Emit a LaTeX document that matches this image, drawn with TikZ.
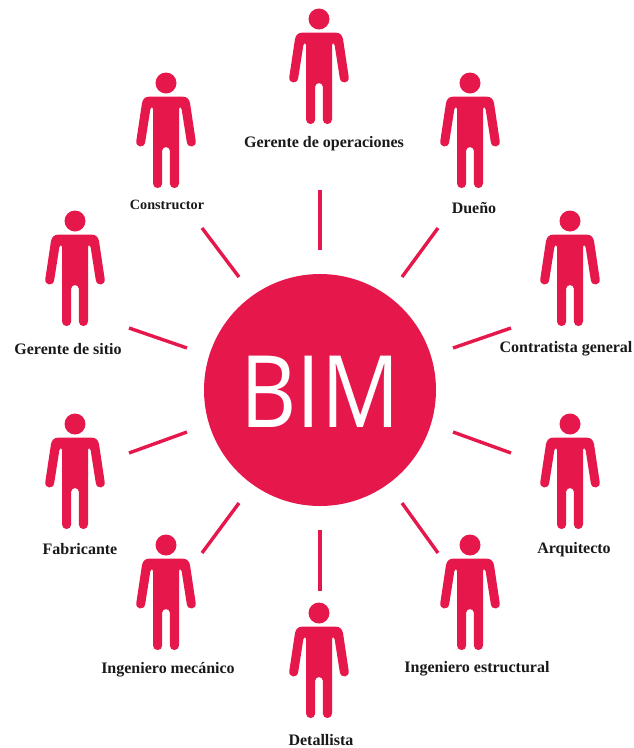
\documentclass[tikz,border=0pt]{standalone}
\usepackage{fontspec}
\setmainfont{Liberation Serif}
\newfontfamily\bimfont{Open Sans}
\definecolor{bimred}{HTML}{E6174B}
\tikzset{
    spoke/.style={draw=bimred, line width=3.4pt},
    hub/.style={circle, fill=bimred, minimum size=232pt, inner sep=0pt},
    role/.style={font=\bfseries\fontsize{16}{18}\selectfont, text=black!90, inner sep=0pt},
    person/.pic={
        \fill [bimred] (0,0) circle (10.5);
        \fill [bimred] (-17,13.7) -- (17,13.7)
            .. controls (21,13.7) and (23,16) .. (24,20) -- (29.7,58)
            .. controls (30.6,64.6) and (21.7,65.6) .. (20.8,59) -- (15.6,26)
            .. controls (15.2,23.6) and (13,23.6) .. (13,26.5) -- (13,100.5)
            .. controls (13,106.5) and (3.8,106.5) .. (3.8,100.5) -- (3.8,67.5)
            .. controls (3.8,63) and (-3.8,63) .. (-3.8,67.5) -- (-3.8,100.5)
            .. controls (-3.8,106.5) and (-13,106.5) .. (-13,100.5) -- (-13,26.5)
            .. controls (-13,23.6) and (-15.2,23.6) .. (-15.6,26) -- (-20.8,59)
            .. controls (-21.7,65.6) and (-30.6,64.6) .. (-29.7,58) -- (-24,20)
            .. controls (-23,16) and (-21,13.7) .. (-17,13.7) -- cycle;
    }
}
\begin{document}
\begin{tikzpicture}[x=1pt, y=-1pt]
        \useasboundingbox (0,0) rectangle (633,748);
        \node [hub] (BIM) at (320,390) {};
        \node [text=white, font=\bimfont\fontsize{100}{100}\selectfont, xscale=0.87, transform shape, inner sep=0pt] (BIMT) at (320,392) {BIM};
        \pic (PO) at (319,19) {person};
        \pic (PD) at (470,83) {person};
        \pic (PC) at (570,221) {person};
        \pic (PA) at (570,424) {person};
        \pic (PE) at (470,545) {person};
        \pic (PL) at (319,613) {person};
        \pic (PM) at (166,545) {person};
        \pic (PF) at (75,424) {person};
        \pic (PS) at (75,221) {person};
        \pic (PK) at (166,83) {person};
        \node [role] (LO) at (324,143.5) {Gerente de operaciones};
        \node [role] (LD) at (474,208) {Dueño};
        \node [role] (LC) at (566,348.5) {Contratista general};
        \node [role] (LA) at (574,549.5) {Arquitecto};
        \node [role] (LE) at (477,668.5) {Ingeniero estructural};
        \node [role] (LL) at (321,740) {Detallista};
        \node [role] (LM) at (168,669.5) {Ingeniero mecánico};
        \node [role] (LF) at (80,549) {Fabricante};
        \node [role] (LS) at (68,349) {Gerente de sitio};
        \node [role, font=\bfseries\fontsize{14.2}{16}\selectfont] (LK) at (167,205) {Constructor};
        \coordinate (O1) at (320,190);
        \coordinate (O2) at (320,250);
        \coordinate (D1) at (438,228);
        \coordinate (D2) at (402,277);
        \coordinate (C1) at (511,328);
        \coordinate (C2) at (453,348);
        \coordinate (A1) at (511,453);
        \coordinate (A2) at (453,432);
        \coordinate (E1) at (438,553);
        \coordinate (E2) at (402,503);
        \coordinate (L1) at (320,591);
        \coordinate (L2) at (320,530);
        \coordinate (M1) at (202,553);
        \coordinate (M2) at (239,503);
        \coordinate (F1) at (129,453);
        \coordinate (F2) at (187,432);
        \coordinate (S1) at (129,328);
        \coordinate (S2) at (187,348);
        \coordinate (K1) at (202,228);
        \coordinate (K2) at (239,277);
        \path [spoke] (O1) edge node {} (O2);
        \path [spoke] (D1) edge node {} (D2);
        \path [spoke] (C1) edge node {} (C2);
        \path [spoke] (A1) edge node {} (A2);
        \path [spoke] (E1) edge node {} (E2);
        \path [spoke] (L1) edge node {} (L2);
        \path [spoke] (M1) edge node {} (M2);
        \path [spoke] (F1) edge node {} (F2);
        \path [spoke] (S1) edge node {} (S2);
        \path [spoke] (K1) edge node {} (K2);
    \end{tikzpicture}
\end{document}
